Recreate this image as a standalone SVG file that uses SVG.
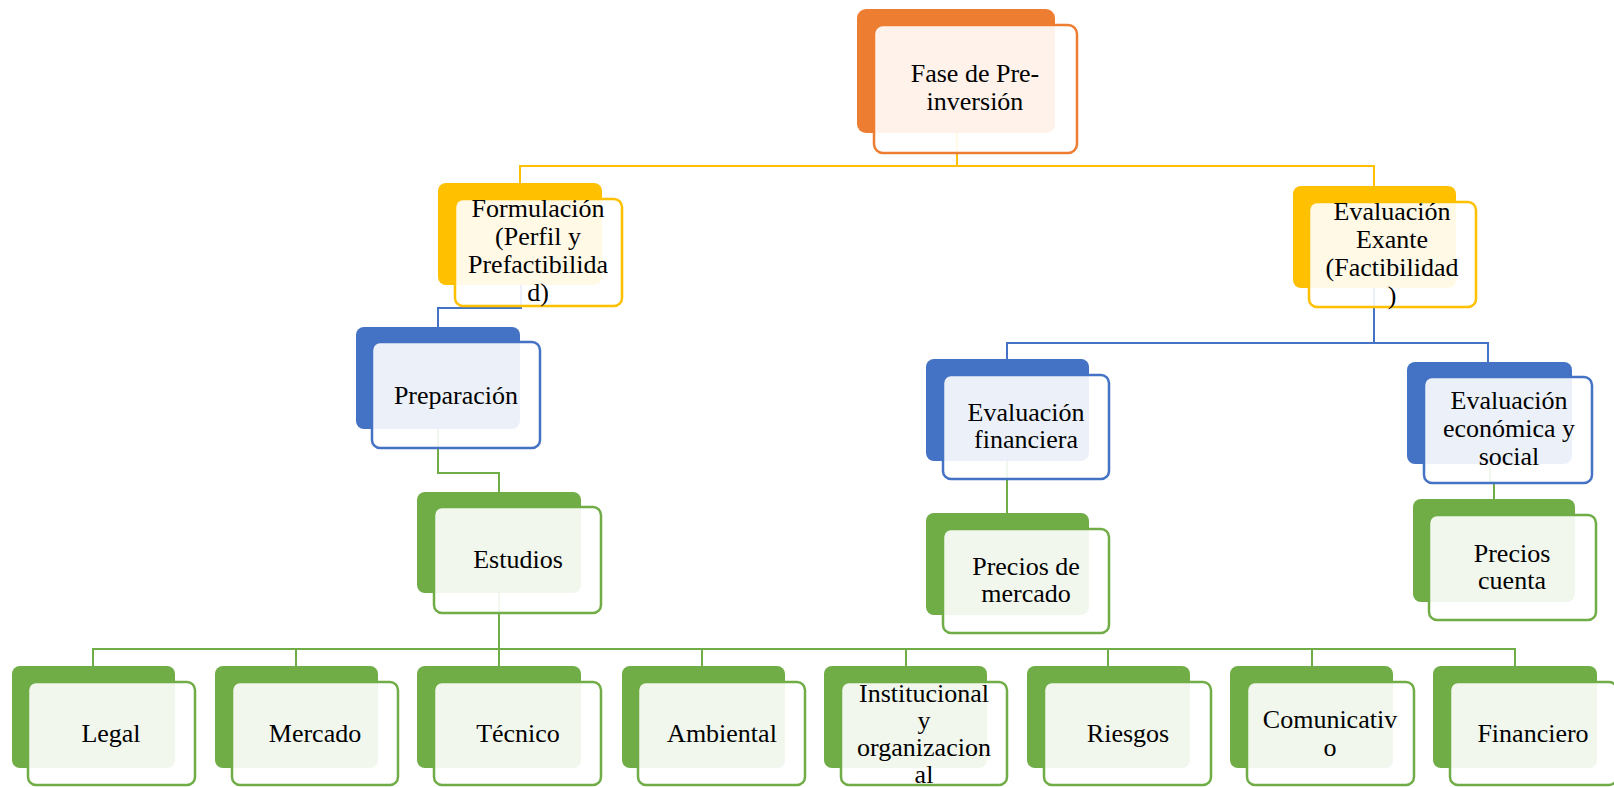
<svg xmlns="http://www.w3.org/2000/svg" width="1614" height="787" viewBox="0 0 1614 787">
<style>
.bg{fill:#ffffff}
.t{font-family:"Liberation Serif","Times New Roman",serif;font-size:26px;fill:#000;text-anchor:middle}
.ob{fill:#ED7D31}.of{fill:#fff;fill-opacity:.9;stroke:#ED7D31;stroke-width:2.5}
.yb{fill:#FFC000}.yf{fill:#fff;fill-opacity:.9;stroke:#FFC000;stroke-width:2.5}
.bb{fill:#4472C4}.bf{fill:#fff;fill-opacity:.9;stroke:#4472C4;stroke-width:2.5}
.gb{fill:#70AD47}.gf{fill:#fff;fill-opacity:.9;stroke:#70AD47;stroke-width:2.5}
.cy{fill:none;stroke:#FFC000;stroke-width:2}
.cb{fill:none;stroke:#4472C4;stroke-width:2}
.cg{fill:none;stroke:#70AD47;stroke-width:2}
</style>
<rect class="bg" x="0" y="0" width="1614" height="787"/>
<g id="connectors">
<path class="cy" d="M957,133 V166 M520,183 V166 H1374 V186"/>
<path class="cb" d="M521,285 V308 H438 V327"/>
<path class="cb" d="M1374,288 V343 M1007,359 V343 H1488 V362"/>
<path class="cg" d="M438,429 V473 H499 V492"/>
<path class="cg" d="M499,593 V649 M93,666 V649 H1515 V666 M296,649 V666 M702,649 V666 M906,649 V666 M1108,649 V666 M1312,649 V666 M499,649 V666"/>
<path class="cg" d="M1007,461 V513"/>
<path class="cg" d="M1490,464 V482 H1494 V499"/>
</g>
<g id="fase">
<rect class="ob" x="857" y="9" width="198" height="124" rx="9"/>
<rect class="of" x="874" y="25" width="203" height="128" rx="9"/>
<text class="t" x="975" y="82">Fase de Pre-</text>
<text class="t" x="975" y="110">inversión</text>
</g>
<g id="formulacion">
<rect class="yb" x="438" y="183" width="164" height="102" rx="8"/>
<rect class="yf" x="455" y="199" width="167" height="107" rx="8"/>
<text class="t" x="538" y="217">Formulación</text>
<text class="t" x="538" y="245">(Perfil y</text>
<text class="t" x="538" y="273">Prefactibilida</text>
<text class="t" x="538" y="301">d)</text>
</g>
<g id="exante">
<rect class="yb" x="1293" y="186" width="163" height="102" rx="8"/>
<rect class="yf" x="1309" y="202" width="167" height="105" rx="8"/>
<text class="t" x="1392" y="220">Evaluación</text>
<text class="t" x="1392" y="248">Exante</text>
<text class="t" x="1392" y="276">(Factibilidad</text>
<text class="t" x="1392" y="304">)</text>
</g>
<g id="preparacion">
<rect class="bb" x="356" y="327" width="164" height="102" rx="8"/>
<rect class="bf" x="372" y="342" width="168" height="106" rx="8"/>
<text class="t" x="456" y="404">Preparación</text>
</g>
<g id="estudios">
<rect class="gb" x="417" y="492" width="164" height="101" rx="8"/>
<rect class="gf" x="434" y="507" width="167" height="106" rx="8"/>
<text class="t" x="518" y="568">Estudios</text>
</g>
<g id="evalfin">
<rect class="bb" x="926" y="359" width="163" height="102" rx="8"/>
<rect class="bf" x="943" y="375" width="166" height="104" rx="8"/>
<text class="t" x="1026" y="421">Evaluación</text>
<text class="t" x="1026" y="448">financiera</text>
</g>
<g id="evalecon">
<rect class="bb" x="1407" y="362" width="165" height="102" rx="8"/>
<rect class="bf" x="1424" y="377" width="168" height="106" rx="8"/>
<text class="t" x="1509" y="409">Evaluación</text>
<text class="t" x="1509" y="437">económica y</text>
<text class="t" x="1509" y="465">social</text>
</g>
<g id="preciosmercado">
<rect class="gb" x="926" y="513" width="163" height="102" rx="8"/>
<rect class="gf" x="943" y="529" width="166" height="104" rx="8"/>
<text class="t" x="1026" y="575">Precios de</text>
<text class="t" x="1026" y="602">mercado</text>
</g>
<g id="precioscuenta">
<rect class="gb" x="1413" y="499" width="162" height="103" rx="8"/>
<rect class="gf" x="1429" y="515" width="167" height="105" rx="8"/>
<text class="t" x="1512" y="562">Precios</text>
<text class="t" x="1512" y="589">cuenta</text>
</g>
<g id="legal">
<rect class="gb" x="12" y="666" width="163" height="102" rx="8"/>
<rect class="gf" x="28" y="682" width="167" height="103" rx="8"/>
<text class="t" x="111" y="742">Legal</text>
</g>
<g id="mercado">
<rect class="gb" x="215" y="666" width="163" height="102" rx="8"/>
<rect class="gf" x="232" y="682" width="166" height="103" rx="8"/>
<text class="t" x="315" y="742">Mercado</text>
</g>
<g id="tecnico">
<rect class="gb" x="417" y="666" width="164" height="102" rx="8"/>
<rect class="gf" x="434" y="682" width="167" height="103" rx="8"/>
<text class="t" x="518" y="742">Técnico</text>
</g>
<g id="ambiental">
<rect class="gb" x="622" y="666" width="163" height="102" rx="8"/>
<rect class="gf" x="638" y="682" width="167" height="103" rx="8"/>
<text class="t" x="722" y="742">Ambiental</text>
</g>
<g id="institucional">
<rect class="gb" x="824" y="666" width="163" height="102" rx="8"/>
<rect class="gf" x="841" y="682" width="166" height="103" rx="8"/>
<text class="t" x="924" y="702">Institucional</text>
<text class="t" x="924" y="729">y</text>
<text class="t" x="924" y="756">organizacion</text>
<text class="t" x="924" y="783">al</text>
</g>
<g id="riesgos">
<rect class="gb" x="1027" y="666" width="163" height="102" rx="8"/>
<rect class="gf" x="1044" y="682" width="167" height="103" rx="8"/>
<text class="t" x="1128" y="742">Riesgos</text>
</g>
<g id="comunicativo">
<rect class="gb" x="1230" y="666" width="163" height="102" rx="8"/>
<rect class="gf" x="1247" y="682" width="167" height="103" rx="8"/>
<text class="t" x="1330" y="728">Comunicativ</text>
<text class="t" x="1330" y="756">o</text>
</g>
<g id="financiero">
<rect class="gb" x="1433" y="666" width="164" height="102" rx="8"/>
<rect class="gf" x="1450" y="682" width="167" height="103" rx="8"/>
<text class="t" x="1533" y="742">Financiero</text>
</g>
</svg>
